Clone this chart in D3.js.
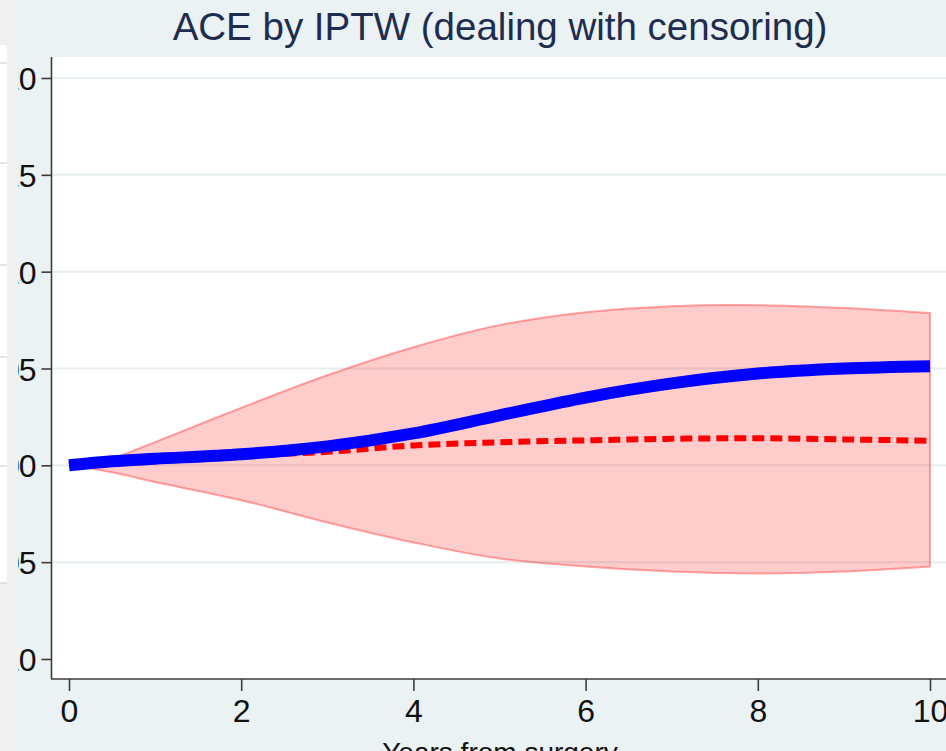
<!DOCTYPE html>
<html>
<head>
<meta charset="utf-8">
<script src="https://cdn.jsdelivr.net/npm/d3@7/dist/d3.min.js"></script>
<style>
  html, body { margin: 0; padding: 0; background: #eaf2f3; }
  svg { display: block; font-family: "Liberation Sans", Arial, sans-serif; }
</style>
</head>
<body>
<svg id="chart" width="946" height="751"></svg>
<script>
// ---- data ----
const title = "ACE by IPTW (dealing with censoring)";
const xTitle = "Years from surgery";
const years = [0, 0.5, 1, 2, 3, 4, 5, 6, 7, 8, 9, 10];
const aceCensoring = [0, 0.0021, 0.0034, 0.0057, 0.0098, 0.0165, 0.0258, 0.0350, 0.0423, 0.0474, 0.0500, 0.0512];
const aceNaive     = [0, 0.0018, 0.0030, 0.0050, 0.0070, 0.0103, 0.0119, 0.0129, 0.0137, 0.0140, 0.0134, 0.0127];
const ciUpper      = [0, 0.0036, 0.0120, 0.0297, 0.0465, 0.0610, 0.0724, 0.0791, 0.0822, 0.0827, 0.0812, 0.0786];
const ciLower      = [0, -0.0036, -0.0086, -0.0180, -0.0295, -0.0398, -0.0481, -0.0522, -0.0548, -0.0558, -0.0548, -0.0522];
const xTicks = [0, 2, 4, 6, 8, 10];
const yTicks = [0.20, 0.15, 0.10, 0.05, 0.00, -0.05, -0.10];

// ---- layout ----
const W = 946, H = 751;
const plot = { left: 52, top: 57, right: 960, bottom: 679 };
const svg = d3.select("#chart");

const x = d3.scaleLinear().domain([0, 10]).range([69, 930]);
const y = d3.scaleLinear().domain([-0.10, 0.20]).range([659, 78]);
const curve = d3.curveCatmullRom.alpha(0.5);

// background
svg.append("rect").attr("x", 0).attr("y", 0).attr("width", W).attr("height", H).attr("fill", "#eaf2f3");
// plot region
svg.append("rect").attr("x", plot.left).attr("y", plot.top)
  .attr("width", plot.right - plot.left).attr("height", plot.bottom - plot.top)
  .attr("fill", "#ffffff");

// gridlines
svg.append("g").selectAll("line")
  .data(yTicks.filter(d => d > -0.1))
  .join("line")
  .attr("x1", plot.left).attr("x2", plot.right)
  .attr("y1", d => y(d)).attr("y2", d => y(d))
  .attr("stroke", "#e6eef0").attr("stroke-width", 2);

const rows = years.map((t, i) => ({ t, a: aceCensoring[i], n: aceNaive[i], lo: ciLower[i], hi: ciUpper[i] }));

// confidence band
const band = d3.area().x(d => x(d.t)).y0(d => y(d.lo)).y1(d => y(d.hi)).curve(curve);
svg.append("path").datum(rows)
  .attr("d", band)
  .attr("fill", "rgba(255,0,0,0.2)")
  .attr("stroke", "rgba(255,60,60,0.45)")
  .attr("stroke-width", 2);

// naive (dashed red) line
const lineN = d3.line().x(d => x(d.t)).y(d => y(d.n)).curve(curve);
svg.append("path").datum(rows)
  .attr("d", lineN)
  .attr("fill", "none")
  .attr("stroke", "#ff0000")
  .attr("stroke-width", 6)
  .attr("stroke-dasharray", "12,6");

// ACE (blue) line
const lineA = d3.line().x(d => x(d.t)).y(d => y(d.a)).curve(curve);
svg.append("path").datum(rows)
  .attr("d", lineA)
  .attr("fill", "none")
  .attr("stroke", "#0000ff")
  .attr("stroke-width", 12);

// axes
const yAxis = d3.axisLeft(y).tickValues(yTicks).tickSize(10).tickPadding(6)
  .tickFormat(d => d.toFixed(2));
const gy = svg.append("g").attr("transform", `translate(${plot.left - 0.5},0)`).call(yAxis);
gy.select(".domain").attr("d", `M0,${plot.top}V${plot.bottom}`);

const xAxis = d3.axisBottom(x).tickValues(xTicks).tickSize(12).tickPadding(8).tickFormat(d3.format("d"));
const gx = svg.append("g").attr("transform", `translate(0,${plot.bottom})`).call(xAxis);
gx.select(".domain").attr("d", `M${plot.left - 1},0H${plot.right}`);

[gx, gy].forEach(g => {
  g.select(".domain").attr("stroke", "#3c3c3c").attr("stroke-width", 1.6);
  g.selectAll(".tick line").attr("stroke", "#3c3c3c").attr("stroke-width", 1.6);
  g.selectAll(".tick text").attr("fill", "#111").attr("font-size", 32)
    .attr("font-family", "Liberation Sans, Arial, sans-serif");
});
gy.selectAll(".tick text").attr("dy", "0.36em").attr("letter-spacing", -1);
gx.selectAll(".tick text").attr("dy", "0.71em");

// titles
svg.append("text").attr("x", 500).attr("y", 40).attr("text-anchor", "middle")
  .attr("font-size", 38.5).attr("fill", "#1e2d4f").text(title);
svg.append("text").attr("x", 500).attr("y", 762).attr("text-anchor", "middle")
  .attr("font-size", 28).attr("fill", "#111").text(xTitle);

// overlapping window strip at the left edge of the screenshot
const strip = svg.append("g");
strip.append("rect").attr("x", 0).attr("y", 0).attr("width", 18).attr("height", H).attr("fill", "#f0f0f0");
strip.append("rect").attr("x", 0).attr("y", 45).attr("width", 7).attr("height", 538).attr("fill", "#ffffff");
strip.selectAll("line").data([63, 163, 265, 357, 466, 583]).join("line")
  .attr("x1", 0).attr("x2", 7).attr("y1", d => d).attr("y2", d => d)
  .attr("stroke", "#c8c8c8").attr("stroke-width", 1);
</script>
</body>
</html>
